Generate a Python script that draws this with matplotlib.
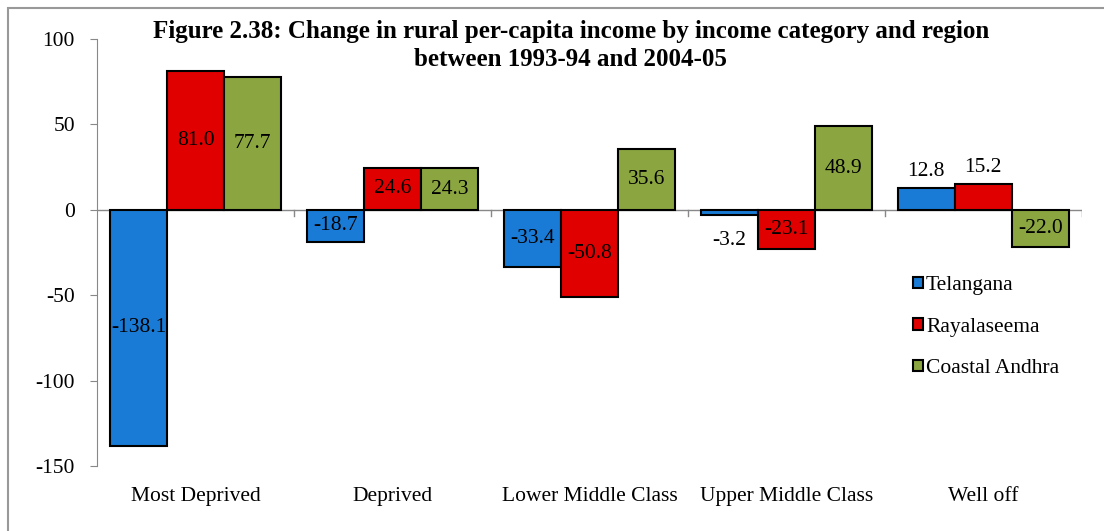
import numpy as np
import matplotlib.pyplot as plt
from matplotlib.patches import Rectangle

categories = ["Most Deprived", "Deprived", "Lower Middle Class", "Upper Middle Class", "Well off"]
telangana = [-138.1, -18.7, -33.4, -3.2, 12.8]
rayalaseema = [81.0, 24.6, -50.8, -23.1, 15.2]
coastal = [77.7, 24.3, 35.6, 48.9, -22.0]

series = [("Telangana", telangana, "#1a7bd6"),
          ("Rayalaseema", rayalaseema, "#e00000"),
          ("Coastal Andhra", coastal, "#8ba640")]

plt.rc('font', family='Liberation Serif', size=15.5)
plt.rcParams['axes.unicode_minus'] = False

fig = plt.figure(figsize=(11.04, 5.31), dpi=100)
ax = fig.add_axes([0.0879, 0.1224, 0.892, 0.8042])

x = np.arange(len(categories))
w = 0.29
for j, (name, vals, col) in enumerate(series):
    pos = x + (j - 1) * w
    ax.bar(pos, vals, w, color=col, edgecolor="black", linewidth=1.5, label=name, zorder=3)
    for p, v in zip(pos, vals):
        if abs(v) < 16:
            if v > 0:
                ax.text(p, v + 4, "%.1f" % v, ha="center", va="bottom", fontsize=15.5, zorder=4)
            else:
                ax.text(p, v - 9, "%.1f" % v, ha="center", va="top", fontsize=15.5, zorder=4)
        else:
            ax.text(p, v / 2, "%.1f" % v, ha="center", va="center", fontsize=15.5, zorder=4)

ax.set_xlim(-0.5, len(categories) - 0.5)
ax.set_ylim(-150, 100)
ax.set_yticks([-150, -100, -50, 0, 50, 100])
ax.set_xticks(x)
ax.set_xticklabels(categories)
ax.tick_params(axis="x", length=0, pad=15, labelsize=15.5)
ax.tick_params(axis="y", color="#888888", labelsize=15.5, length=5, pad=11)
for s in ["top", "right", "bottom"]:
    ax.spines[s].set_visible(False)
ax.spines["left"].set_color("#888888")
ax.axhline(0, color="#888888", linewidth=1, zorder=2)
for b in np.arange(0.5, len(categories), 1.0):
    ax.plot([b, b], [0, -3.5], color="#888888", linewidth=1, zorder=2)

ax.legend(loc="upper left", bbox_to_anchor=(0.82, 0.465), frameon=False, fontsize=15.5,
          handlelength=0.45, handleheight=0.45, handletextpad=0.15, labelspacing=1.05,
          borderaxespad=0)

fig.text(0.517, 0.941, "Figure 2.38: Change in rural per-capita income by income category and region",
         ha="center", va="center", fontsize=18, fontweight="bold")
fig.text(0.517, 0.888, "between 1993-94 and 2004-05",
         ha="center", va="center", fontsize=18, fontweight="bold")

fig.patches.append(Rectangle((8 / 1104, -0.1), 1.2, (531 - 8) / 531 + 0.1, transform=fig.transFigure,
                             fill=False, edgecolor="#999999", linewidth=1.5))

fig.savefig("out.png", dpi=100)
